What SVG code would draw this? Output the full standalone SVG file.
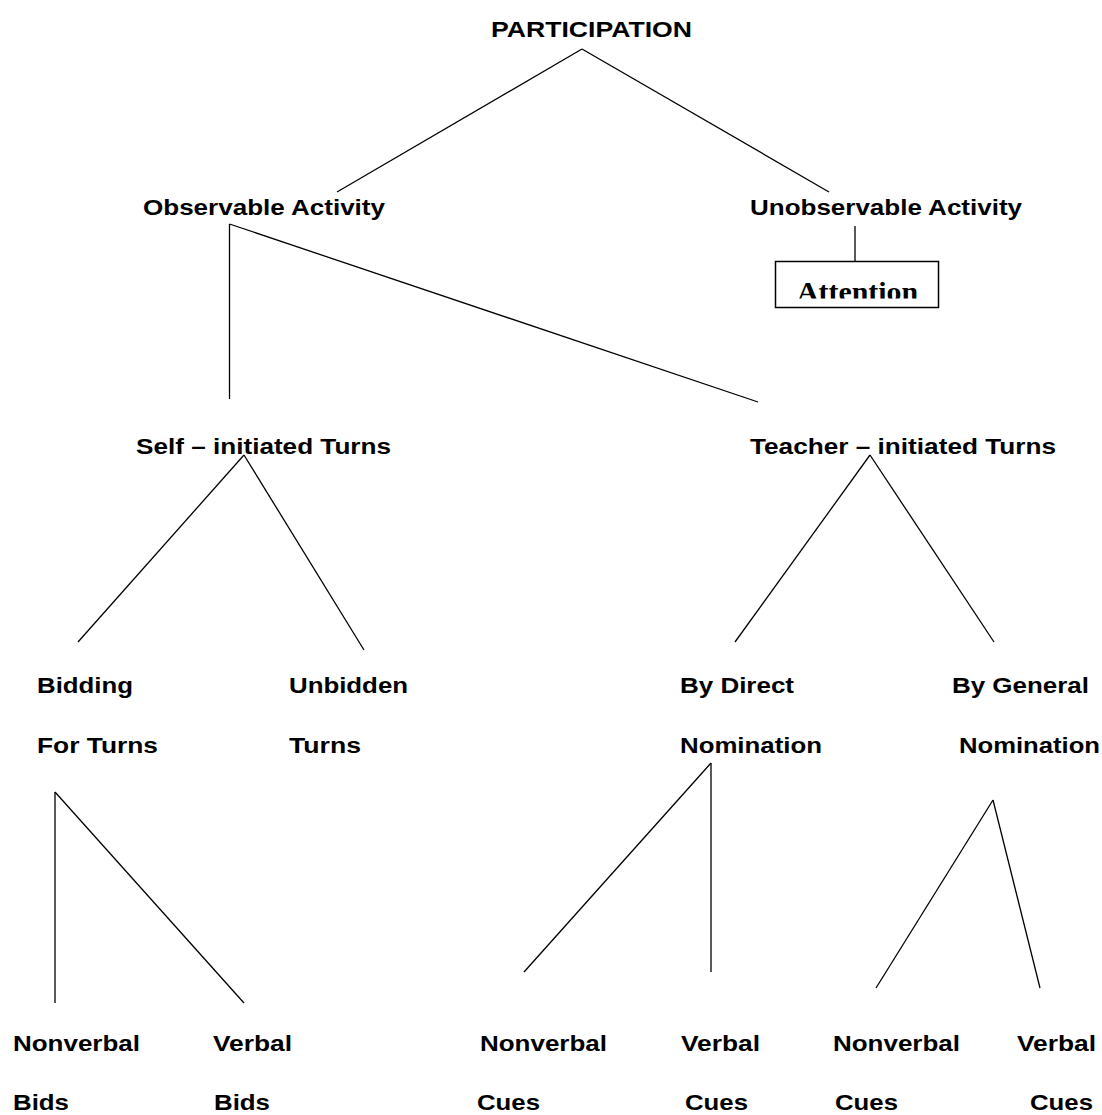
<svg xmlns="http://www.w3.org/2000/svg" width="1102" height="1115" viewBox="0 0 1102 1115">
<style>
.t{font-family:"Liberation Sans",Arial,sans-serif;font-weight:bold;font-size:22.5px;fill:#000}
.s{font-family:"Liberation Serif","Times New Roman",serif;font-weight:bold;font-size:27px;fill:#000}
.c line{stroke:#000;stroke-width:1.3;fill:none}
</style>
<defs>
<clipPath id="clipAtt"><rect x="776" y="262" width="162" height="36.5"/></clipPath>
</defs>
<rect width="1102" height="1115" fill="#fff"/>
<g class="c" id="connectors">
<line x1="582" y1="49" x2="337" y2="192"/>
<line x1="582" y1="49" x2="829" y2="192"/>
<line x1="855" y1="226" x2="855" y2="262"/>
<line x1="229.5" y1="224" x2="229.5" y2="399"/>
<line x1="229.5" y1="224" x2="758" y2="402"/>
<line x1="244" y1="455" x2="78" y2="642"/>
<line x1="244" y1="455" x2="364" y2="650"/>
<line x1="870" y1="455" x2="735" y2="642"/>
<line x1="870" y1="455" x2="994" y2="642"/>
<line x1="55" y1="792" x2="55" y2="1003"/>
<line x1="55" y1="792" x2="244" y2="1003"/>
<line x1="711" y1="763" x2="524" y2="972"/>
<line x1="711" y1="763" x2="711" y2="972"/>
<line x1="993" y1="800" x2="876" y2="988"/>
<line x1="993" y1="800" x2="1040" y2="988"/>
</g>
<g id="participation"><text class="t" x="491" y="37" textLength="201" lengthAdjust="spacingAndGlyphs">PARTICIPATION</text></g>
<g id="observable"><text class="t" x="143" y="215" textLength="242" lengthAdjust="spacingAndGlyphs">Observable Activity</text></g>
<g id="unobservable"><text class="t" x="750" y="215" textLength="272" lengthAdjust="spacingAndGlyphs">Unobservable Activity</text></g>
<g id="attention">
<rect x="775.5" y="261.5" width="163" height="46" fill="#fff" stroke="#000" stroke-width="1.5"/>
<text class="s" x="797" y="301" textLength="121" lengthAdjust="spacingAndGlyphs" clip-path="url(#clipAtt)">Attention</text>
</g>
<g id="self"><text class="t" x="136" y="454" textLength="255" lengthAdjust="spacingAndGlyphs">Self – initiated Turns</text></g>
<g id="teacher"><text class="t" x="750" y="454" textLength="306" lengthAdjust="spacingAndGlyphs">Teacher – initiated Turns</text></g>
<g id="bidding">
<text class="t" x="37" y="693" textLength="96" lengthAdjust="spacingAndGlyphs">Bidding</text>
<text class="t" x="37" y="753" textLength="121" lengthAdjust="spacingAndGlyphs">For Turns</text>
</g>
<g id="unbidden">
<text class="t" x="289" y="693" textLength="119" lengthAdjust="spacingAndGlyphs">Unbidden</text>
<text class="t" x="289" y="753" textLength="72" lengthAdjust="spacingAndGlyphs">Turns</text>
</g>
<g id="direct">
<text class="t" x="680" y="693" textLength="114" lengthAdjust="spacingAndGlyphs">By Direct</text>
<text class="t" x="680" y="753" textLength="142" lengthAdjust="spacingAndGlyphs">Nomination</text>
</g>
<g id="general">
<text class="t" x="952" y="693" textLength="137" lengthAdjust="spacingAndGlyphs">By General</text>
<text class="t" x="959" y="753" textLength="141" lengthAdjust="spacingAndGlyphs">Nomination</text>
</g>
<g id="nvbids">
<text class="t" x="13" y="1051" textLength="127" lengthAdjust="spacingAndGlyphs">Nonverbal</text>
<text class="t" x="13" y="1110" textLength="56" lengthAdjust="spacingAndGlyphs">Bids</text>
</g>
<g id="vbids">
<text class="t" x="213" y="1051" textLength="79" lengthAdjust="spacingAndGlyphs">Verbal</text>
<text class="t" x="214" y="1110" textLength="56" lengthAdjust="spacingAndGlyphs">Bids</text>
</g>
<g id="nvcues1">
<text class="t" x="480" y="1051" textLength="127" lengthAdjust="spacingAndGlyphs">Nonverbal</text>
<text class="t" x="477" y="1110" textLength="63" lengthAdjust="spacingAndGlyphs">Cues</text>
</g>
<g id="vcues1">
<text class="t" x="681" y="1051" textLength="79" lengthAdjust="spacingAndGlyphs">Verbal</text>
<text class="t" x="685" y="1110" textLength="63" lengthAdjust="spacingAndGlyphs">Cues</text>
</g>
<g id="nvcues2">
<text class="t" x="833" y="1051" textLength="127" lengthAdjust="spacingAndGlyphs">Nonverbal</text>
<text class="t" x="835" y="1110" textLength="63" lengthAdjust="spacingAndGlyphs">Cues</text>
</g>
<g id="vcues2">
<text class="t" x="1017" y="1051" textLength="79" lengthAdjust="spacingAndGlyphs">Verbal</text>
<text class="t" x="1030" y="1110" textLength="63" lengthAdjust="spacingAndGlyphs">Cues</text>
</g>
</svg>
